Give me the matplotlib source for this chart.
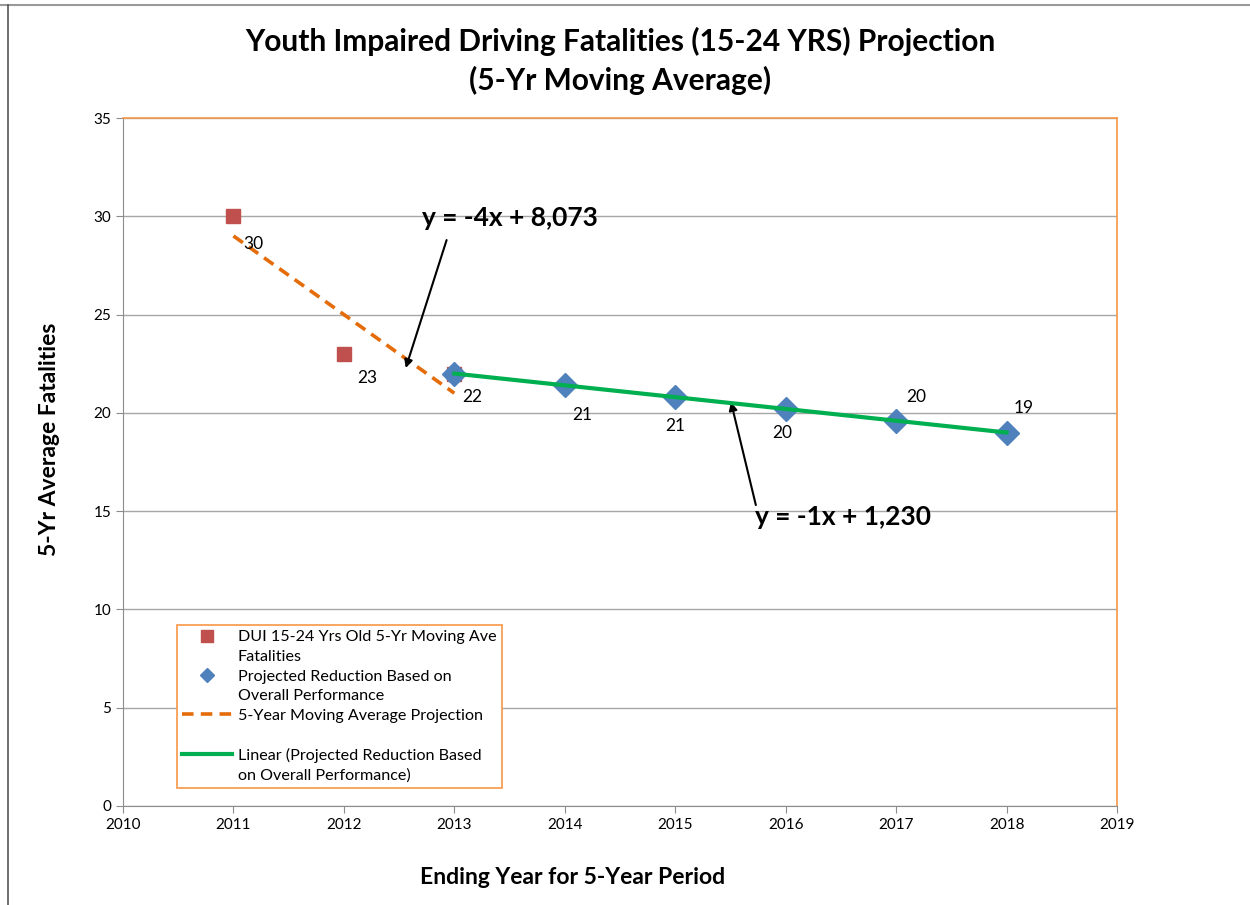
import matplotlib.pyplot as plt
from matplotlib.lines import Line2D

plt.rcParams['font.family'] = ['Lato', 'DejaVu Sans']

# data
dui_years = [2011, 2012, 2013]
dui_values = [30, 23, 22]
dui_labels = ["30", "23", ""]

proj_years = [2013, 2014, 2015, 2016, 2017, 2018]
proj_values = [22.0, 21.4, 20.8, 20.2, 19.6, 19.0]
proj_labels = ["22", "21", "21", "20", "20", "19"]

ma_years = [2011, 2012, 2013]
ma_values = [29, 25, 21]

lin_years = [2013, 2018]
lin_values = [22.0, 19.0]

ORANGE = "#F79646"
GRID = "#a6a6a6"
DASH = (0, (3.2, 2))

fig = plt.figure(figsize=(12.5, 9.05), dpi=100)
ax = fig.add_axes([0.0984, 0.1094, 0.7952, 0.7602])

ax.set_xlim(2010, 2019)
ax.set_ylim(0, 35)
ax.set_xticks(range(2010, 2020))
ax.set_yticks(range(0, 36, 5))
ax.yaxis.grid(True, color=GRID, linewidth=1)
ax.set_axisbelow(True)

for side in ["top", "right"]:
    ax.spines[side].set_color(ORANGE)
    ax.spines[side].set_linewidth(1.2)
for side in ["left", "bottom"]:
    ax.spines[side].set_color("#8c8c8c")
ax.tick_params(colors="#8c8c8c", labelcolor="black", labelsize=11, length=5)

# series
ax.plot(ma_years, ma_values, color="#E46C0A", linestyle=DASH, linewidth=2.6, zorder=2)
ax.plot(dui_years, dui_values, linestyle="none", marker="s", markersize=10,
        color="#C0504D", zorder=3)
ax.plot(proj_years, proj_values, linestyle="none", marker="D", markersize=12,
        color="#4F81BD", zorder=4)
ax.plot(lin_years, lin_values, color="#00B050", linewidth=3, zorder=5)

# data labels (offsets in pixels)
dui_off = [(20, -28), (23, -24), (0, 0)]
for x, y, t, o in zip(dui_years, dui_values, dui_labels, dui_off):
    if t:
        ax.annotate(t, (x, y), xytext=o, textcoords="offset pixels",
                    fontsize=12.5, ha="center", va="center")
proj_off = [(18, -23), (17, -30), (0, -29), (-3, -24), (20, 24), (17, 25)]
for x, y, t, o in zip(proj_years, proj_values, proj_labels, proj_off):
    ax.annotate(t, (x, y), xytext=o, textcoords="offset pixels",
                fontsize=12.5, ha="center", va="center")

# trend equations
arrow = dict(arrowstyle="-|>", color="black", lw=1.5, mutation_scale=12, shrinkA=0, shrinkB=0)
ax.text(2013.50, 29.9, "y = -4x + 8,073", fontsize=19, fontweight="bold", ha="center", va="center")
ax.annotate("", xy=(2012.56, 22.28), xytext=(2012.93, 28.79), arrowprops=arrow)
ax.text(2016.52, 14.7, "y = -1x + 1,230", fontsize=19, fontweight="bold", ha="center", va="center")
ax.annotate("", xy=(2015.505, 20.55), xytext=(2015.73, 15.31), arrowprops=arrow)

ax.set_xlabel("Ending Year for 5-Year Period", fontsize=16.5, fontweight="bold")
ax.xaxis.set_label_coords(0.452, -0.088)
ax.set_ylabel("5-Yr Average Fatalities", fontsize=16.5, fontweight="bold")
ax.yaxis.set_label_coords(-0.063, 0.533)
fig.text(0.496, 0.9326, "Youth Impaired Driving Fatalities (15-24 YRS) Projection\n(5-Yr Moving Average)",
         ha="center", va="center", fontsize=21.5, fontweight="bold", linespacing=1.4)

# legend: one row per text line so the handle sits on the first line
blank = Line2D([], [], linestyle="none")
handles = [
    Line2D([], [], linestyle="none", marker="s", markersize=9, color="#C0504D"), blank,
    Line2D([], [], linestyle="none", marker="D", markersize=7, color="#4F81BD"), blank,
    Line2D([], [], color="#E46C0A", linestyle=DASH, linewidth=2.6), blank,
    Line2D([], [], color="#00B050", linewidth=3), blank,
]
labels = [
    "DUI 15-24 Yrs Old 5-Yr Moving Ave", "Fatalities",
    "Projected Reduction Based on", "Overall Performance",
    "5-Year Moving Average Projection", " ",
    "Linear (Projected Reduction Based", "on Overall Performance)",
]
leg = ax.legend(handles, labels, loc="lower left", bbox_to_anchor=(0.054, 0.026),
                fontsize=11.6, frameon=True, fancybox=False, framealpha=1,
                edgecolor=ORANGE, handlelength=3.1, labelspacing=0.33,
                borderpad=0.35, handletextpad=0.35, borderaxespad=0)
leg.get_frame().set_linewidth(1.2)

# screenshot frame lines
fig.add_artist(Line2D([0, 1], [0.994, 0.994], color="#999999", lw=1.5))
fig.add_artist(Line2D([0.006, 0.006], [0, 0.994], color="#555555", lw=1.2))

fig.savefig("out.png", dpi=100)
